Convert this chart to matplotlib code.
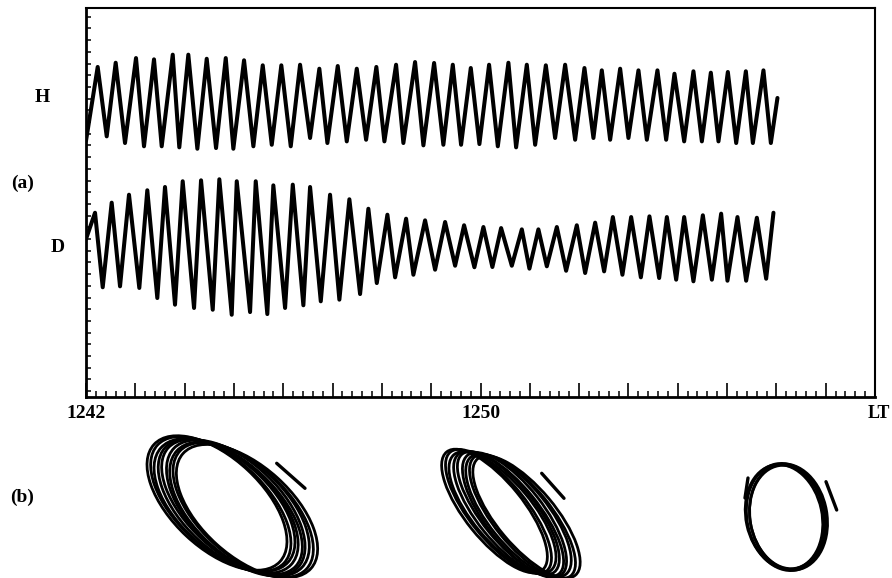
import matplotlib
matplotlib.use("Agg")
import matplotlib.pyplot as plt
import numpy as np
from matplotlib.patches import Ellipse
from matplotlib.ticker import MultipleLocator

# ---------------- data ----------------
# time axis: minutes after 12:42 LT
time_labels = ["1242", "1250"]
time_label_pos = [0, 8]

# H component: successive maxima / minima (time [min], level [arb. units])
H_peak_t = [0.237, 0.602, 1.014, 1.379, 1.759, 2.075, 2.448, 2.834, 3.205, 3.584,
            3.961, 4.341, 4.732, 5.105, 5.491, 5.888, 6.288, 6.673, 7.059, 7.438,
            7.803, 8.174, 8.566, 8.939, 9.325, 9.716, 10.108, 10.460, 10.832, 11.203,
            11.588, 11.933, 12.318, 12.671, 13.016, 13.381, 13.738]
H_peak_v = [28.21, 28.57, 28.97, 28.86, 29.26, 29.26, 28.91, 28.97, 28.78, 28.35,
            28.35, 28.40, 28.06, 28.29, 28.06, 28.21, 28.40, 28.63, 28.55, 28.40,
            28.12, 28.40, 28.57, 28.40, 28.35, 28.40, 28.12, 27.92, 28.06, 27.92,
            27.92, 27.63, 27.84, 27.72, 27.78, 27.84, 27.92]
H_trough_t = [0.420, 0.791, 1.176, 1.535, 1.892, 2.258, 2.637, 2.988, 3.394, 3.767,
              4.152, 4.544, 4.895, 5.288, 5.680, 6.051, 6.436, 6.842, 7.247, 7.606,
              7.978, 8.351, 8.722, 9.108, 9.513, 9.919, 10.290, 10.629, 11.000, 11.373,
              11.765, 12.130, 12.489, 12.826, 13.185, 13.523, 13.888]
H_trough_v = [22.28, 21.71, 21.43, 21.43, 21.34, 21.22, 21.28, 21.22, 21.43, 21.56,
              21.43, 22.14, 21.71, 21.85, 21.99, 21.85, 21.71, 21.51, 21.56, 21.56,
              21.62, 21.43, 21.34, 21.56, 22.14, 21.99, 22.14, 21.99, 22.14, 21.99,
              21.99, 21.85, 21.85, 21.85, 21.71, 21.71, 21.71]
H_start = (0.0, 21.9)
H_end = (14.022, 25.56)

# D component
D_peak_t = [0.183, 0.521, 0.872, 1.243, 1.602, 1.961, 2.333, 2.704, 3.057, 3.442,
            3.799, 4.193, 4.544, 4.949, 5.341, 5.726, 6.112, 6.491, 6.876, 7.282,
            7.667, 8.059, 8.418, 8.838, 9.174, 9.548, 9.953, 10.325, 10.684, 11.055,
            11.426, 11.779, 12.130, 12.509, 12.880, 13.211, 13.604]
D_peak_v = [15.75, 16.61, 17.29, 17.67, 17.95, 18.44, 18.52, 18.61, 18.44, 18.44,
            18.09, 18.15, 17.95, 17.29, 16.90, 16.09, 15.58, 15.24, 15.10, 14.96,
            14.68, 14.53, 14.44, 14.33, 14.33, 14.53, 14.68, 14.90, 15.38, 15.38,
            15.44, 15.38, 15.38, 15.53, 15.67, 15.38, 15.32]
D_trough_t = [0.339, 0.690, 1.081, 1.446, 1.805, 2.191, 2.570, 2.955, 3.327, 3.677,
              4.037, 4.408, 4.761, 5.138, 5.558, 5.897, 6.268, 6.639, 7.079, 7.485,
              7.876, 8.241, 8.635, 8.992, 9.345, 9.736, 10.122, 10.507, 10.878, 11.252,
              11.623, 11.968, 12.318, 12.692, 13.008, 13.387, 13.793]
D_trough_v = [9.38, 9.46, 9.32, 8.46, 7.89, 7.61, 7.46, 7.03, 7.26, 7.09,
              7.61, 7.84, 8.18, 8.32, 8.80, 9.74, 10.23, 10.45, 10.88, 11.22,
              11.09, 11.11, 11.22, 10.97, 11.17, 10.79, 10.60, 10.74, 10.45, 10.23,
              10.17, 10.03, 9.89, 10.03, 9.94, 9.94, 10.11]
D_start = (0.0, 13.5)
D_end = (13.941, 15.75)

# hodograms (b): loops in the H-D plane (full axes, tilt in degrees, centre offsets)
hodo1_width = [172, 173, 171, 172, 174, 172, 171, 173, 172]
hodo1_height = [90, 89, 91, 90, 88, 90, 91, 89, 90]
hodo1_angle = [-43, -43, -42, -43, -43, -44, -43, -43, -42]
hodo1_dx = [-15, -11.2, -7.5, -3.8, 0, 3.8, 7.5, 11.2, 15]
hodo1_dy = [4, 3, 2, 1, 0, -1, -2, -3, -4]

hodo2_width = [152, 153, 151, 152, 154, 152, 151, 153, 152]
hodo2_height = [58, 57, 59, 58, 56, 58, 59, 57, 58]
hodo2_angle = [-51, -51, -50, -51, -51, -52, -51, -51, -50]
hodo2_dx = [-16, -12, -8, -4, 0, 4, 8, 12, 16]
hodo2_dy = [3, 2.5, 1.5, 1, 0, -1, -1.5, -2.5, -3]

hodo3_width = [106, 108, 104, 107]
hodo3_height = [76, 78, 74, 77]
hodo3_angle = [-78, -79.5, -81, -80]
hodo3_dx = [-2, 0, 1, 2.5]
hodo3_dy = [0, 0, 0, 0]

# short strokes beside each hodogram (x0, y0, x1, y1 in the hodogram frame)
hodo1_strokes = [(44.7, 43.7, 73.0, 18.7)]
hodo2_strokes = [(31.2, 40.7, 53.5, 15.7)]
hodo3_strokes = [(40.0, 35.3, 50.7, 7.0), (-38.0, 39.0, -41.0, 19.0)]

# ---------------- figure ----------------
W, HPX = 892, 578
fig = plt.figure(figsize=(W / 100, HPX / 100), dpi=100)
fig.patch.set_facecolor("white")
SERIF = ["Liberation Serif", "DejaVu Serif"]


def trace(start, pt, pv, tt, tv, end):
    n = len(pt)
    t = np.empty(2 * n)
    v = np.empty(2 * n)
    t[0::2], t[1::2] = pt, tt
    v[0::2], v[1::2] = pv, tv
    t = np.concatenate([[start[0]], t, [end[0]]])
    v = np.concatenate([[start[1]], v, [end[1]]])
    return t, v


ax = fig.add_axes([86 / W, 1 - 397 / HPX, (875 - 86) / W, (397 - 8) / HPX])
for args in [(H_start, H_peak_t, H_peak_v, H_trough_t, H_trough_v, H_end),
             (D_start, D_peak_t, D_peak_v, D_trough_t, D_trough_v, D_end)]:
    t, v = trace(*args)
    ax.plot(t, v, color="black", lw=2.9, solid_joinstyle="round",
            solid_capstyle="round")

ax.set_xlim(0, 16)
ax.set_ylim(0, 33.25)
major = list(range(17))
lab = ["" for _ in major]
for p, s in zip(time_label_pos, time_labels):
    lab[p] = s
ax.set_xticks(major)
ax.set_xticklabels(lab, fontfamily=SERIF, fontweight="bold", fontsize=14)
ax.xaxis.set_minor_locator(MultipleLocator(0.2))
ax.set_yticks(np.arange(0.5, 33, 1.0))
ax.set_yticklabels([])
ax.tick_params(axis="x", which="major", direction="in", length=10, width=1.2, pad=6)
ax.tick_params(axis="x", which="minor", direction="in", length=4.5, width=1.1)
ax.tick_params(axis="y", which="major", direction="in", length=3.8, width=1.1)
for side in ["left", "bottom"]:
    ax.spines[side].set_linewidth(2.0)
for side in ["top", "right"]:
    ax.spines[side].set_linewidth(1.5)

txt = dict(fontfamily=SERIF, fontweight="bold", fontsize=14, ha="center", va="center")
fig.text(42 / W, 1 - 98 / HPX, "H", **txt)
fig.text(23 / W, 1 - 183 / HPX, "(a)", **txt)
fig.text(58 / W, 1 - 248 / HPX, "D", **txt)
fig.text(22 / W, 1 - 497 / HPX, "(b)", **txt)
fig.text(890 / W, 1 - 414 / HPX, "LT", fontfamily=SERIF, fontweight="bold",
         fontsize=13, ha="right", va="center")


def hodogram(cx, cy, widths, heights, angles, dxs, dys, strokes):
    hax = fig.add_axes([(cx - 110) / W, (HPX - cy - 80) / HPX, 220 / W, 160 / HPX])
    hax.set_xlim(-110, 110)
    hax.set_ylim(-80, 80)
    hax.axis("off")
    for w, h, a, dx, dy in zip(widths, heights, angles, dxs, dys):
        hax.add_patch(Ellipse((dx, dy), w, h, angle=a, fill=False,
                              edgecolor="black", lw=2.0, clip_on=False))
    for x0, y0, x1, y1 in strokes:
        hax.plot([x0, x1], [y0, y1], color="black", lw=2.4,
                 solid_capstyle="round", clip_on=False)


hodogram(232, 507, hodo1_width, hodo1_height, hodo1_angle, hodo1_dx, hodo1_dy, hodo1_strokes)
hodogram(510.5, 514, hodo2_width, hodo2_height, hodo2_angle, hodo2_dx, hodo2_dy, hodo2_strokes)
hodogram(786, 517, hodo3_width, hodo3_height, hodo3_angle, hodo3_dx, hodo3_dy, hodo3_strokes)

fig.savefig("out.png", dpi=100)
